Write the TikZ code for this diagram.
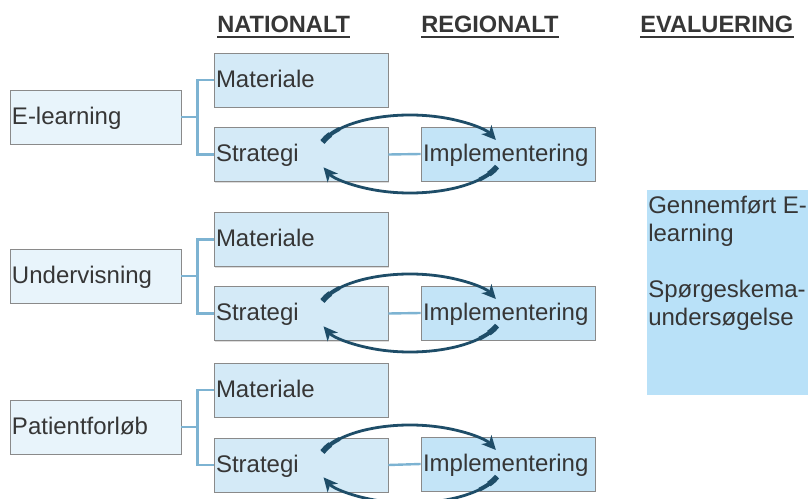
\documentclass[tikz,border=0pt]{standalone}
\usepackage{fontspec}
\setmainfont{Liberation Sans}
\usetikzlibrary{shadows,arrows.meta,calc}
\definecolor{txt}{HTML}{363636}
\definecolor{pfill}{HTML}{E8F4FB}
\definecolor{cfill}{HTML}{D4EAF7}
\definecolor{ifill}{HTML}{C3E4F7}
\definecolor{efill}{HTML}{B9E1F8}
\definecolor{bord}{HTML}{8A8A8A}
\definecolor{conn}{HTML}{7DB3D2}
\definecolor{arr}{HTML}{1E4D68}
\begin{document}
\begin{tikzpicture}[x=0.75pt,y=-0.75pt,
  box/.style={draw=bord, line width=0.6pt, text=txt, inner xsep=1.5pt, inner ysep=0pt,
    minimum height=40.5pt, text height=14pt, text depth=3pt, align=left,
    font=\fontsize{18pt}{21pt}\selectfont,
    drop shadow={shadow xshift=0.9pt, shadow yshift=-1.1pt, opacity=0.28}},
  parentbox/.style={box, fill=pfill, text width=125.25pt},
  childbox/.style={box, fill=cfill, text width=127.5pt},
  implbox/.style={box, fill=ifill, text width=127.5pt},
  hdr/.style={anchor=base west, inner sep=0pt, text=txt, font=\fontsize{17.7pt}{21pt}\selectfont\bfseries},
  hline/.style={draw=txt, line width=1.5pt},
  conn/.style={draw=conn, line width=2.2pt},
  link/.style={draw=conn, line width=1.8pt},
  arrline/.style={draw=arr, line width=2.1pt, -{Stealth[length=10.5pt,width=10pt,inset=3pt]}},
  arrthick/.style={draw=arr, line width=4.2pt},
  arrmid/.style={draw=arr, line width=3pt}
]
\useasboundingbox (0,0) rectangle (808,499);

% headers
\node[hdr] (h1) at (217,33) {NATIONALT};
\node[hdr] (h2) at (421,33) {REGIONALT};
\node[hdr] (h3) at (640,33) {EVALUERING};
\foreach \h in {h1,h2,h3}{
  \draw[hline] ([yshift=-2.9pt]\h.base west) -- ([yshift=-2.9pt]\h.base east);
}

% row nodes
\node[parentbox] (e1) at (95.5,117) {E-learning};
\node[childbox]  (m1) at (301,80) {Materiale};
\node[childbox]  (s1) at (301,154.5) {Strategi};
\node[implbox]   (i1) at (508,154) {Implementering};

\node[parentbox] (e2) at (95.5,276) {Undervisning};
\node[childbox]  (m2) at (301,239.5) {Materiale};
\node[childbox]  (s2) at (301,313.5) {Strategi};
\node[implbox]   (i2) at (508,313) {Implementering};

\node[parentbox] (e3) at (95.5,427) {Patientforløb};
\node[childbox]  (m3) at (301,390) {Materiale};
\node[childbox]  (s3) at (301,465) {Strategi};
\node[implbox]   (i3) at (508,464) {Implementering};

% evaluation box
\node[fill=efill, anchor=north west, inner xsep=0.75pt, inner ysep=0pt, text=txt,
      font=\fontsize{18pt}{21pt}\selectfont] (ev) at (647,190)
  {\parbox[t][153.75pt][t]{119.25pt}{\raggedright\rule{0pt}{17.2pt}Gennemført E-\\learning\\[21pt]Spørgeskema-\\undersøgelse}};

% connectors
\foreach \r in {1,2,3}{
  \draw[conn] (e\r.east) -- ++(16,0) |- (m\r.west);
  \draw[conn] (e\r.east) -- ++(16,0) |- (s\r.west);
  \draw[link] (s\r.east) -- (i\r.west);
}

% circular arrows
\coordinate (c1) at (410,154);
\coordinate (c2) at (410,313);
\coordinate (c3) at (410,464);
\foreach \c in {c1,c2,c3}{
  \draw[arrline] ($(\c)+(162:69pt and 29.25pt)$) arc[start angle=162, end angle=21, x radius=69pt, y radius=29.25pt];
  \draw[arrmid] ($(\c)+(162:69pt and 29.25pt)$) arc[start angle=162, end angle=140, x radius=69pt, y radius=29.25pt];
  \draw[arrthick] ($(\c)+(162:69pt and 29.25pt)$) arc[start angle=162, end angle=150, x radius=69pt, y radius=29.25pt];
  \draw[arrline] ($(\c)+(-19:69pt and 29.25pt)$) arc[start angle=-19, end angle=-160, x radius=69pt, y radius=29.25pt];
  \draw[arrmid] ($(\c)+(-19:69pt and 29.25pt)$) arc[start angle=-19, end angle=-41, x radius=69pt, y radius=29.25pt];
  \draw[arrthick] ($(\c)+(-19:69pt and 29.25pt)$) arc[start angle=-19, end angle=-31, x radius=69pt, y radius=29.25pt];
}
\end{tikzpicture}
\end{document}
